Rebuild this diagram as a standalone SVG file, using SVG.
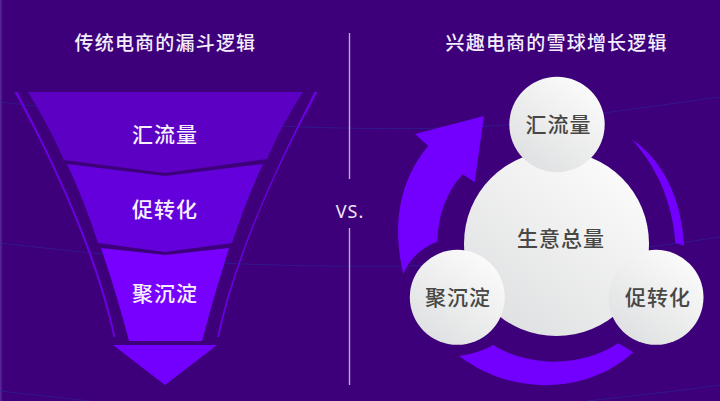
<svg xmlns="http://www.w3.org/2000/svg" width="720" height="401" viewBox="0 0 720 401">
<defs>
<linearGradient id="ball" x1="0.8" y1="0.1" x2="0.2" y2="0.9"><stop offset="0" stop-color="#fafafa"/><stop offset="1" stop-color="#e0e1e2"/></linearGradient>
<linearGradient id="edge" x1="0" x2="1" y1="0" y2="0"><stop offset="0" stop-color="#5a2a98"/><stop offset="1" stop-color="#3d007a"/></linearGradient>
</defs>
<style>
.title{font:500 19px "Noto Sans CJK SC","Noto Sans",sans-serif;fill:#f4eefc;letter-spacing:1.2px}
.fl{font:500 21px "Noto Sans CJK SC","Noto Sans",sans-serif;fill:#f6f0ff;letter-spacing:1px}
.bl{font:500 21px "Noto Sans CJK SC","Noto Sans",sans-serif;fill:#474745;letter-spacing:1px}
.wave{fill:none;stroke:#2a2a9c;stroke-width:0.8;opacity:.7}
.violet{fill:#7300ff}
.ball{fill:url(#ball)}
.div{stroke:#b9aecb;stroke-width:1.4}
</style>
<rect id="background" width="720" height="401" fill="#3d007a"/>
<rect x="0" y="0" width="3" height="401" fill="url(#edge)"/>
<g id="waves">
<path class="wave" d="M0 102C120 116 240 126 340 128C430 130 520 128 603 113C650 107 690 101 720 97"/>
<path class="wave" d="M0 243C80 252 160 261 223 263C300 267 420 268 510 262C570 258 640 249 720 237"/>
<path class="wave" d="M0 391L90 401M587 401C630 396 680 391 720 385"/>
</g>
<g id="divider"><line class="div" x1="349.5" y1="33" x2="349.5" y2="179"/><line class="div" x1="349.5" y1="228" x2="349.5" y2="385"/></g>
<g id="connectors">
<path id="arrow-left" class="violet" d="M403.300 274C391 222 401 178 428.300 146L415 134L484 116L474.700 182.300L462.700 174.300C446 192 438 216 437.300 241.700C420 248 409 260 403.300 274Z"/>
<path id="arrow-right" class="violet" d="M631.700 139.300C663 160 682 200 684 245.700L675.300 242.700C673 205 658 168 631.700 139.300Z"/>
<path id="arrow-bottom" class="violet" d="M459.300 356C472 354 483 351 493.300 345C530 368 582 367 618.300 343.300L633.300 352.300C585 396 510 395 459.300 356Z"/>
</g>
<text class="title" x="74.500" y="50">传统电商的漏斗逻辑</text>
<text class="title" x="445.500" y="50">兴趣电商的雪球增长逻辑</text>
<g id="funnel-lines" fill="#6a00e0">
<path d="M14.500 92L17.500 92C53 160 97 250 115.500 337L113.500 337C94 250 54 165 14.500 92Z"/>
<path d="M317.500 92L314.500 92C280 160 236 250 217 337L219 337C238 250 278 165 317.500 92Z"/>
</g>
<g id="node-funnel-1"><path fill="#5c00c4" d="M28 92H303Q282 124 267 159L165 173L64 160Q48 124 28 92Z"/><text class="fl" x="132" y="142">汇流量</text></g>
<g id="node-funnel-2"><path fill="#6300dc" d="M67 164L165 176L263 164Q246 200 232 243L165 252L98 243Q84 200 67 164Z"/><text class="fl" x="132" y="217">促转化</text></g>
<g id="node-funnel-3"><path fill="#7700ff" d="M101 248L165 255L229 248Q214 295 202 341H129Q117 295 101 248Z"/><text class="fl" x="132" y="301">聚沉淀</text></g>
<g id="funnel-tip"><path class="violet" d="M113 345H217L165 385Z"/></g>
<g id="vs"><text x="350" y="217.500" text-anchor="middle" font-family="'Noto Sans','Liberation Sans',sans-serif" font-size="18" letter-spacing="1" fill="#eee6f7">VS.</text></g>
<g id="node-total"><circle class="ball" cx="556.500" cy="243.500" r="92.500"/><text class="bl" x="517" y="246">生意总量</text></g>
<g id="node-inflow"><circle class="ball" cx="557" cy="124.500" r="47.700"/><text class="bl" x="525.500" y="132">汇流量</text></g>
<g id="node-settle"><circle class="ball" cx="457.300" cy="297.300" r="47.500"/><text class="bl" x="425" y="305">聚沉淀</text></g>
<g id="node-convert"><circle class="ball" cx="656" cy="297.300" r="47.500"/><text class="bl" x="625" y="305">促转化</text></g>
</svg>
